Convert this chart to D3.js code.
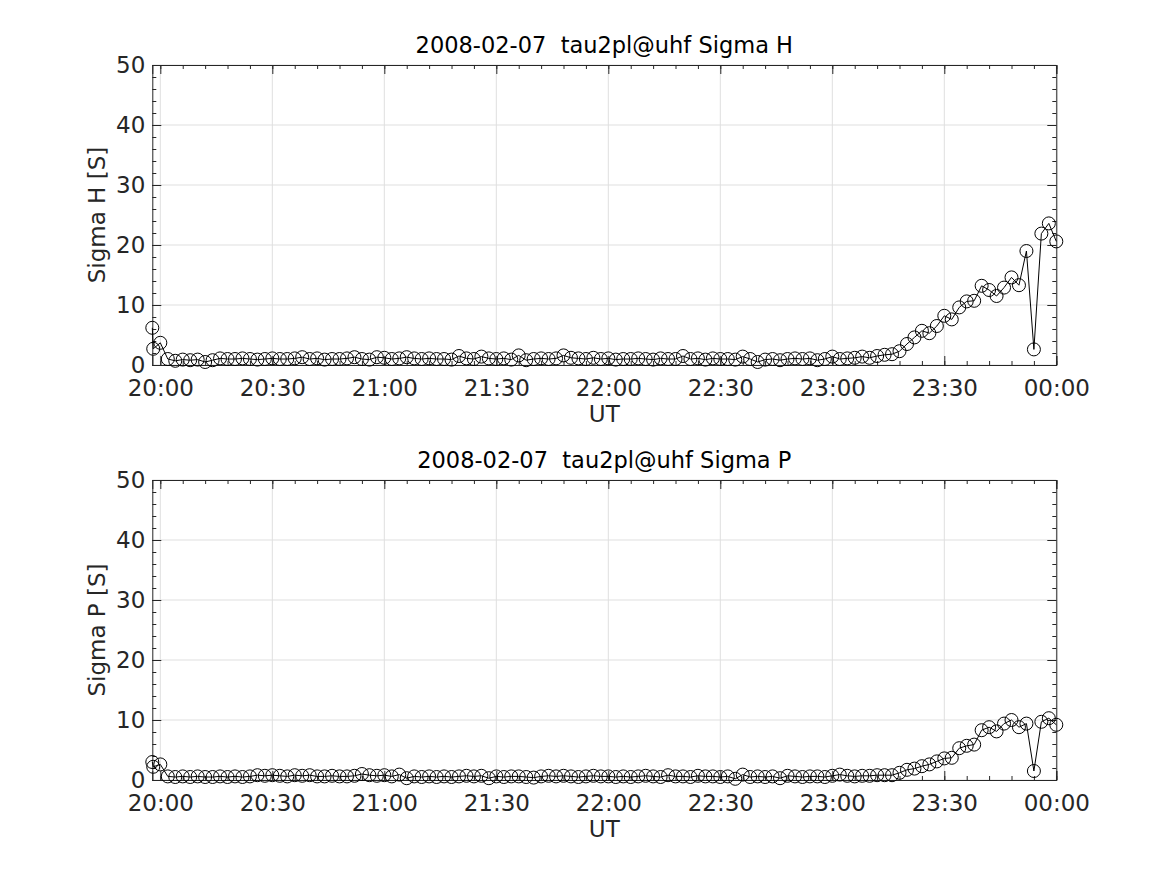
<!DOCTYPE html>
<html lang="en">
<head>
<meta charset="UTF-8">
<title>Sigma H / Sigma P</title>
<script src="https://d3js.org/d3.v7.min.js"></script>
<style>
  body { margin: 0; background: #fff; }
  svg text { font-family: "DejaVu Sans", sans-serif; fill: #262626; }
  .grid line { stroke: #dfdfdf; stroke-width: 1; }
  .axis path, .axis line { stroke: #262626; }
</style>
</head>
<body>
<svg id="chart" width="1167" height="875"></svg>
<script>
// sample times: two early samples, then every 2 minutes 20:00 .. 00:00
const earlyTimes = ["2008-02-07T19:57:51Z", "2008-02-07T19:58:06Z"];
const regularStart = "2008-02-07T20:00:00Z";
const stepMinutes = 2;

// Sigma H [S]
const sigmaH = [
  6.2, 2.7,
  3.7, 1.0, 0.7, 0.9, 0.8, 0.9, 0.5, 0.8, 1.1, 1.0,
  1.0, 1.1, 1.0, 0.9, 1.0, 1.1, 1.0, 1.0, 1.1, 1.3,
  1.0, 1.1, 0.9, 1.0, 1.0, 1.1, 1.3, 1.0, 0.9, 1.3,
  1.2, 1.0, 1.1, 1.3, 1.1, 1.0, 1.1, 1.0, 1.0, 0.9,
  1.5, 1.1, 1.0, 1.4, 1.1, 1.0, 1.1, 0.9, 1.6, 0.8,
  1.0, 1.1, 1.0, 1.1, 1.6, 1.2, 1.1, 1.0, 1.2, 1.0,
  1.1, 0.9, 1.0, 1.0, 1.1, 1.0, 0.9, 1.1, 1.0, 1.0,
  1.5, 1.0, 1.1, 0.9, 1.1, 1.0, 1.0, 0.9, 1.4, 1.0,
  0.5, 0.9, 1.0, 0.8, 1.0, 1.1, 1.0, 1.1, 0.8, 1.0,
  1.4, 1.0, 1.1, 1.2, 1.4, 1.2, 1.5, 1.7, 1.8, 2.3,
  3.5, 4.6, 5.7, 5.3, 6.5, 8.2, 7.6, 9.6, 10.6, 10.7,
  13.2, 12.5, 11.5, 12.9, 14.6, 13.3, 19.0, 2.6, 21.9, 23.6,
  20.6
];

// Sigma P [S]
const sigmaP = [
  3.0, 2.2,
  2.6, 0.6, 0.5, 0.6, 0.5, 0.6, 0.5, 0.5, 0.6, 0.5,
  0.6, 0.5, 0.6, 0.8, 0.7, 0.8, 0.7, 0.6, 0.8, 0.7,
  0.8, 0.6, 0.6, 0.7, 0.6, 0.6, 0.7, 1.0, 0.8, 0.7,
  0.8, 0.6, 0.9, 0.3, 0.6, 0.5, 0.6, 0.5, 0.6, 0.5,
  0.6, 0.7, 0.6, 0.7, 0.3, 0.6, 0.5, 0.6, 0.6, 0.5,
  0.4, 0.6, 0.7, 0.6, 0.7, 0.6, 0.5, 0.6, 0.7, 0.6,
  0.6, 0.5, 0.6, 0.5, 0.6, 0.7, 0.6, 0.5, 0.8, 0.6,
  0.6, 0.5, 0.7, 0.6, 0.6, 0.5, 0.6, 0.2, 0.9, 0.5,
  0.6, 0.5, 0.6, 0.3, 0.7, 0.6, 0.5, 0.6, 0.6, 0.5,
  0.7, 0.9, 0.7, 0.6, 0.7, 0.7, 0.8, 0.8, 0.8, 1.2,
  1.7, 1.9, 2.3, 2.6, 3.1, 3.6, 3.7, 5.3, 5.7, 5.9,
  8.3, 8.8, 8.1, 9.4, 10.0, 8.8, 9.4, 1.5, 9.7, 10.3,
  9.2
];

const yTicks = [0, 10, 20, 30, 40, 50];
const xEnd = "2008-02-08T00:00:00Z";

const titles = ["2008-02-07  tau2pl@uhf Sigma H", "2008-02-07  tau2pl@uhf Sigma P"];
const yLabels = ["Sigma H [S]", "Sigma P [S]"];
const xLabel = "UT";

// build time axis
const times = earlyTimes.map(s => new Date(s));
const t0 = new Date(regularStart);
for (let i = 0; i < sigmaH.length - earlyTimes.length; i++) {
  times.push(new Date(t0.getTime() + i * stepMinutes * 60000));
}

const svg = d3.select("#chart");
const left = 152.3, right = 1056.3;
const panelTops = [65, 480];
const panelH = 300;
const fontSize = 23;
const titleSize = 22.5;

const x = d3.scaleUtc()
  .domain([times[0], new Date(xEnd)])
  .range([left, right]);

const majorX = d3.utcMinute.every(30).range(new Date(regularStart), new Date(new Date(xEnd).getTime() + 1));
const minorX = d3.utcMinute.every(6).range(times[0], new Date(new Date(xEnd).getTime() + 1));
const minorY = d3.range(0, 51, 2);

[sigmaH, sigmaP].forEach((vals, k) => {
  const top = panelTops[k];
  const bottom = top + panelH;
  const y = d3.scaleLinear().domain([0, 50]).range([bottom, top]);
  const g = svg.append("g");

  // grid
  const grid = g.append("g").attr("class", "grid");
  grid.selectAll("line.gx").data(majorX).join("line")
    .attr("x1", d => x(d)).attr("x2", d => x(d))
    .attr("y1", top).attr("y2", bottom);
  grid.selectAll("line.gy").data(yTicks).join("line")
    .attr("x1", left).attr("x2", right)
    .attr("y1", d => y(d)).attr("y2", d => y(d));

  // minor ticks (inward, all four sides)
  const fmt = d3.utcFormat("%H:%M");
  g.append("g").attr("class", "axis").attr("transform", `translate(0,${bottom})`)
    .call(d3.axisBottom(x).tickValues(minorX).tickSize(-4).tickFormat(""))
    .call(a => a.select(".domain").remove());
  g.append("g").attr("class", "axis").attr("transform", `translate(0,${top})`)
    .call(d3.axisTop(x).tickValues(minorX).tickSize(-4).tickFormat(""))
    .call(a => a.select(".domain").remove());
  g.append("g").attr("class", "axis").attr("transform", `translate(${left},0)`)
    .call(d3.axisLeft(y).tickValues(minorY).tickSize(-4).tickFormat(""))
    .call(a => a.select(".domain").remove());
  g.append("g").attr("class", "axis").attr("transform", `translate(${right},0)`)
    .call(d3.axisRight(y).tickValues(minorY).tickSize(-4).tickFormat(""))
    .call(a => a.select(".domain").remove());

  // major ticks
  const xb = g.append("g").attr("class", "axis").attr("transform", `translate(0,${bottom})`)
    .call(d3.axisBottom(x).tickValues(majorX).tickSize(-9).tickPadding(20).tickFormat(fmt));
  xb.selectAll("text").attr("font-size", fontSize).attr("dy", "0.35em").attr("y", 23);
  g.append("g").attr("class", "axis").attr("transform", `translate(0,${top})`)
    .call(d3.axisTop(x).tickValues(majorX).tickSize(-9).tickFormat(""));
  const yl = g.append("g").attr("class", "axis").attr("transform", `translate(${left},0)`)
    .call(d3.axisLeft(y).tickValues(yTicks).tickSize(-9).tickPadding(7).tickFormat(d3.format("d")));
  yl.selectAll("text").attr("font-size", fontSize).attr("x", -7);
  g.append("g").attr("class", "axis").attr("transform", `translate(${right},0)`)
    .call(d3.axisRight(y).tickValues(yTicks).tickSize(-9).tickFormat(""));
  g.selectAll(".axis text").style("fill", "#262626").attr("font-family", "DejaVu Sans");
  g.selectAll(".domain").attr("stroke-width", 1);

  // data line + markers
  const pts = vals.map((v, i) => [times[i], v]);
  g.append("path")
    .datum(pts)
    .attr("fill", "none")
    .attr("stroke", "#000")
    .attr("stroke-width", 1)
    .attr("d", d3.line().x(d => x(d[0])).y(d => y(d[1])));
  g.selectAll("circle").data(pts).join("circle")
    .attr("cx", d => x(d[0])).attr("cy", d => y(d[1]))
    .attr("r", 6.5)
    .attr("fill", "none")
    .attr("stroke", "#000")
    .attr("stroke-width", 1);

  // labels
  g.append("text")
    .attr("x", (left + right) / 2).attr("y", top - 12)
    .attr("text-anchor", "middle").attr("font-size", titleSize)
    .style("fill", "#000").style("white-space", "pre")
    .text(titles[k]);
  g.append("text")
    .attr("x", (left + right) / 2).attr("y", bottom + 57)
    .attr("text-anchor", "middle").attr("font-size", fontSize)
    .text(xLabel);
  g.append("text")
    .attr("transform", `translate(105,${(top + bottom) / 2}) rotate(-90)`)
    .attr("text-anchor", "middle").attr("font-size", fontSize)
    .text(yLabels[k]);
});
</script>
</body>
</html>
